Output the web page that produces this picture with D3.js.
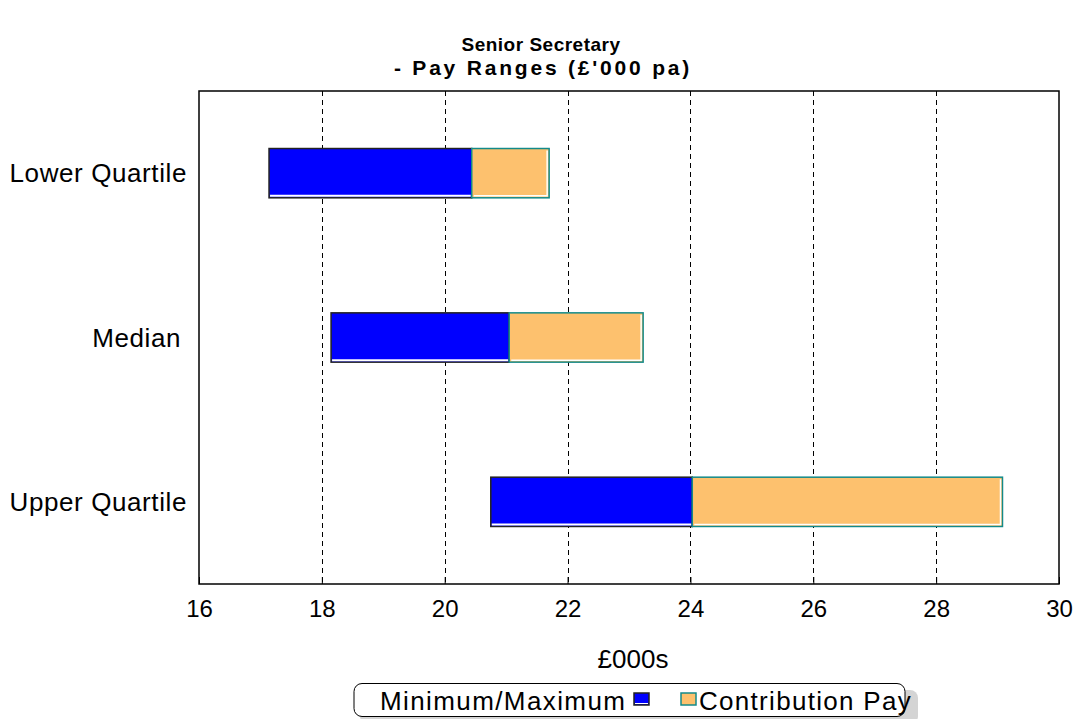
<!DOCTYPE html>
<html>
<head>
<meta charset="utf-8">
<script src="https://cdn.jsdelivr.net/npm/d3@7"></script>
<style>
  html, body { margin: 0; padding: 0; background: #fff; }
  svg { display: block; font-family: "Liberation Sans", Arial, sans-serif; }
</style>
</head>
<body>
<svg id="chart" width="1081" height="719"></svg>
<script>
// Pay range per quartile, £'000 per annum
const categories = ["Lower Quartile", "Median", "Upper Quartile"];
const minimumPay = [17.14, 18.15, 20.75];
const maximumPay = [20.44, 21.05, 24.03];
const contributionPay = [21.70, 23.23, 29.08];
const xTicks = [16, 18, 20, 22, 24, 26, 28, 30];
const seriesNames = ["Minimum/Maximum", "Contribution Pay"];

const W = 1081, H = 719;
const margin = { left: 199, right: 22, top: 91, bottom: 135 };
const svg = d3.select("#chart");

const x = d3.scaleLinear().domain([16, 30]).range([margin.left, W - margin.right]);
const y = d3.scaleBand().domain(categories).range([margin.top, H - margin.bottom]).paddingInner(0.7).paddingOuter(0.35);

const blue = "#0000ff", orange = "#fdc16e", teal = "#138a8a";

// Title
const title = svg.append("text").attr("text-anchor", "middle").attr("font-weight", "bold");
title.append("tspan").attr("x", 541).attr("y", 51).attr("font-size", 19).attr("letter-spacing", 0.5)
  .text("Senior Secretary");
title.append("tspan").attr("x", 543).attr("y", 75).attr("font-size", 21).attr("letter-spacing", 2.8)
  .text("- Pay Ranges (£'000 pa)");

// Dashed vertical gridlines
svg.append("g").selectAll("line").data(xTicks.slice(1, -1)).join("line")
  .attr("x1", d => Math.round(x(d)) + 0.5).attr("x2", d => Math.round(x(d)) + 0.5)
  .attr("y1", margin.top).attr("y2", H - margin.bottom)
  .attr("stroke", "#000").attr("stroke-width", 1).attr("stroke-dasharray", "5,4");

// Bottom axis: inward ticks with labels below
const axis = d3.axisBottom(x).tickValues(xTicks).tickSizeInner(-7).tickSizeOuter(0).tickPadding(16);
const gx = svg.append("g").attr("transform", `translate(0,${H - margin.bottom})`).call(axis);
gx.select(".domain").remove();
gx.selectAll("text").attr("font-size", 24).attr("fill", "#000")
  .attr("font-family", "Liberation Sans, Arial, sans-serif");
gx.selectAll("line").attr("stroke", "#000");

svg.append("text").attr("x", 633).attr("y", 668).attr("text-anchor", "middle")
  .attr("font-size", 26).text("£000s");

// Category labels
svg.append("g").selectAll("text").data(categories).join("text")
  .attr("x", d => d === "Median" ? 181 : 187)
  .attr("y", d => y(d) + y.bandwidth() / 2 + 9)
  .attr("text-anchor", "end").attr("font-size", 26).attr("letter-spacing", 0.6).text(d => d);

// Bars
const rows = categories.map((c, i) => ({ c, min: minimumPay[i], max: maximumPay[i], top: contributionPay[i] }));
const bars = svg.append("g");
rows.forEach(r => {
  const y0 = y(r.c), h = y.bandwidth();
  // Minimum to maximum segment
  bars.append("rect")
    .attr("x", x(r.min)).attr("y", y0).attr("width", x(r.max) - x(r.min)).attr("height", h)
    .attr("fill", blue).attr("stroke", "#222").attr("stroke-width", 1.5);
  bars.append("line")
    .attr("x1", x(r.min) + 1).attr("x2", x(r.max) - 1)
    .attr("y1", y0 + h - 2).attr("y2", y0 + h - 2)
    .attr("stroke", "#fff").attr("stroke-width", 2);
  // Contribution pay segment
  bars.append("rect")
    .attr("x", x(r.max)).attr("y", y0).attr("width", x(r.top) - x(r.max)).attr("height", h)
    .attr("fill", orange).attr("stroke", teal).attr("stroke-width", 1.5);
  bars.append("polyline")
    .attr("points", `${x(r.max) + 2},${y0 + h - 2} ${x(r.top) - 2},${y0 + h - 2} ${x(r.top) - 2},${y0 + 2}`)
    .attr("fill", "none").attr("stroke", "#fff").attr("stroke-width", 1.5);
});

// Plot frame
svg.append("rect").attr("x", margin.left).attr("y", margin.top)
  .attr("width", W - margin.left - margin.right).attr("height", H - margin.top - margin.bottom)
  .attr("fill", "none").attr("stroke", "#000").attr("stroke-width", 1.5);

// Legend
const lg = svg.append("g");
lg.append("rect").attr("x", 360).attr("y", 690).attr("width", 558).attr("height", 34)
  .attr("rx", 8).attr("fill", "#d4d4d4");
lg.append("rect").attr("x", 354).attr("y", 683.5).attr("width", 551).attr("height", 33)
  .attr("rx", 8).attr("fill", "#fff").attr("stroke", "#000").attr("stroke-width", 1);
lg.append("text").attr("x", 380).attr("y", 710).attr("font-size", 26).attr("letter-spacing", 1.4).text(seriesNames[0]);
lg.append("rect").attr("x", 634).attr("y", 693).attr("width", 15).attr("height", 12)
  .attr("fill", blue).attr("stroke", "#222").attr("stroke-width", 1.5);
lg.append("line").attr("x1", 635).attr("x2", 648).attr("y1", 703.5).attr("y2", 703.5).attr("stroke", "#fff");
lg.append("rect").attr("x", 681).attr("y", 693).attr("width", 15).attr("height", 12)
  .attr("fill", orange).attr("stroke", teal).attr("stroke-width", 1.5);
lg.append("text").attr("x", 699).attr("y", 710).attr("font-size", 26).attr("letter-spacing", 1.3).text(seriesNames[1]);
</script>
</body>
</html>
